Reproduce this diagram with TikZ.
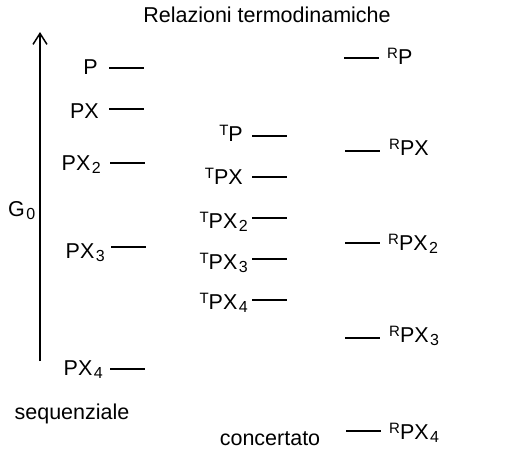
\documentclass[tikz,border=0pt]{standalone}
\usepackage{fontspec}
\setmainfont{Liberation Sans}
\usetikzlibrary{arrows.meta,positioning}
\newcommand{\labfont}{\fontsize{21.5}{25}\selectfont}
\newcommand{\tsup}[1]{\raisebox{6pt}{\fontsize{15}{15}\selectfont #1}}
\newcommand{\tsub}[1]{\kern1.5pt\raisebox{-3pt}{\fontsize{16}{16}\selectfont #1}}

\begin{document}
\begin{tikzpicture}[
  x=1pt,y=-1pt,
  lab/.style={inner sep=0pt,font=\labfont},
  lableft/.style={lab,anchor=base east},
  labright/.style={lab,anchor=base west},
  level/.style={line width=1.3pt,draw=black},
  axis/.style={-{Straight Barb[length=11pt,width=14pt,line width=1.5pt]},line width=1.6pt}
]
\useasboundingbox (0,0) rectangle (526,453);
\node[lab,anchor=base] (title) at (267,22) {Relazioni termodinamiche};
% energy axis
\coordinate (gbot) at (40,361);
\coordinate (gtop) at (40,32);
\draw[axis] (gbot) -- (gtop);
\node[labright] (g0) at (8,216) {G\tsub{0}};
% sequential path
\coordinate (sp) at (109,68);
\coordinate (spx) at (109,109);
\coordinate (spx2) at (110,163);
\coordinate (spx3) at (111,247);
\coordinate (spx4) at (110,369);
\draw[level] (sp) -- ++(35,0);
\draw[level] (spx) -- ++(35,0);
\draw[level] (spx2) -- ++(35,0);
\draw[level] (spx3) -- ++(35,0);
\draw[level] (spx4) -- ++(35,0);
\node[lableft] (lp) at (98,74) {P};
\node[lableft] (lpx) at (99,118) {PX};
\node[lableft] (lpx2) at (101,170) {PX\tsub{2}};
\node[lableft] (lpx3) at (105,258) {PX\tsub{3}};
\node[lableft] (lpx4) at (103,375) {PX\tsub{4}};
\node[lab,anchor=base] (seq) at (72,419) {sequenziale};
% T states
\coordinate (tp) at (252,136);
\coordinate (tpx) at (252,177);
\coordinate (tpx2) at (252,218);
\coordinate (tpx3) at (252,259);
\coordinate (tpx4) at (252,300);
\draw[level] (tp) -- ++(35,0);
\draw[level] (tpx) -- ++(35,0);
\draw[level] (tpx2) -- ++(35,0);
\draw[level] (tpx3) -- ++(35,0);
\draw[level] (tpx4) -- ++(35,0);
\node[lableft] (ltp) at (243,141) {\tsup{T}P};
\node[lableft] (ltpx) at (243,184) {\tsup{T}PX};
\node[lableft] (ltpx2) at (248,228) {\tsup{T}PX\tsub{2}};
\node[lableft] (ltpx3) at (248,269) {\tsup{T}PX\tsub{3}};
\node[lableft] (ltpx4) at (248,309) {\tsup{T}PX\tsub{4}};
% R states, concerted path
\coordinate (rp) at (344,58);
\coordinate (rpx) at (345,151);
\coordinate (rpx2) at (345,243);
\coordinate (rpx3) at (345,338);
\coordinate (rpx4) at (346,431);
\draw[level] (rp) -- ++(35,0);
\draw[level] (rpx) -- ++(35,0);
\draw[level] (rpx2) -- ++(35,0);
\draw[level] (rpx3) -- ++(35,0);
\draw[level] (rpx4) -- ++(35,0);
\node[labright] (lrp) at (387,64) {\tsup{R}P};
\node[labright] (lrpx) at (389,155) {\tsup{R}PX};
\node[labright] (lrpx2) at (388,250) {\tsup{R}PX\tsub{2}};
\node[labright] (lrpx3) at (389,342) {\tsup{R}PX\tsub{3}};
\node[labright] (lrpx4) at (389,439) {\tsup{R}PX\tsub{4}};
\node[lab,anchor=base] (conc) at (270,445) {concertato};
\end{tikzpicture}
\end{document}
